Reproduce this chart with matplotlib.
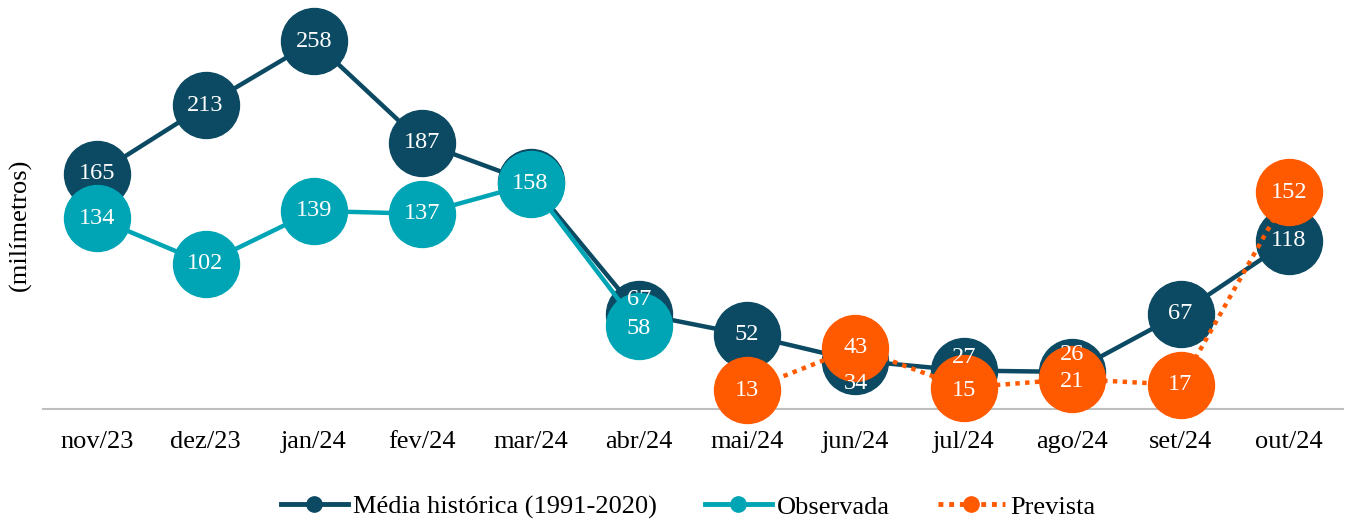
import matplotlib
matplotlib.use("Agg")
import matplotlib.pyplot as plt
from matplotlib.lines import Line2D

months = ["nov/23", "dez/23", "jan/24", "fev/24", "mar/24", "abr/24",
          "mai/24", "jun/24", "jul/24", "ago/24", "set/24", "out/24"]
historica = [165, 213, 258, 187, 159, 67, 52, 34, 27, 26, 67, 118]
observada = [134, 102, 139, 137, 158, 58]
prevista = [13, 43, 15, 21, 17, 152]
prev_start = 6

hist_labels = [165, 213, 258, 187, None, 67, 52, 34, 27, 26, 67, 118]

# label offsets in pixels (to avoid overlapping labels), negative = down
hist_off = [0, 0, 0, 0, 0, 14, 0, -23, 13, 17, 0, 0]
obs_off = [0, 0, 0, 0, 0, -2]
prev_off = [0, 0, -3, -2, 0, 0]

c_hist = "#0B4A62"
c_obs = "#00A5B5"
c_prev = "#FF5A00"

plt.rcParams['font.family'] = ['Liberation Serif', 'DejaVu Serif']

fig = plt.figure(figsize=(13.48, 5.21), dpi=100)
ax = fig.add_axes([43/1348, (521-409)/521, 1300/1348, 389/521])

x = list(range(len(months)))
ms = 47.5
ax.plot(x, historica, color=c_hist, lw=3.2, marker='o', ms=ms, clip_on=False, zorder=3)
ax.plot(x[:len(observada)], observada, color=c_obs, lw=3.2, marker='o', ms=ms, clip_on=False, zorder=4)
xp = x[prev_start:prev_start + len(prevista)]
ax.plot(xp, prevista, color=c_prev, lw=3.2, ls=(0, (1, 1.2)), marker='o', ms=ms, clip_on=False, zorder=5)

fs = 17.5

def lab(xi, v, off):
    ax.annotate(str(v), (xi, v), xytext=(0, off), textcoords='offset pixels',
                color='white', ha='center', va='center', fontsize=fs, zorder=10,
                annotation_clip=False)

for xi, v, o in zip(x, hist_labels, hist_off):
    if v is None:
        continue
    lab(xi, v, o)
for xi, v, o in zip(x, observada, obs_off):
    lab(xi, v, o)
for xi, v, o in zip(xp, prevista, prev_off):
    lab(xi, v, o)

ax.set_xlim(-0.5, len(months) - 0.5)
ax.set_ylim(0, 273)
ax.set_xticks(x)
ax.set_xticklabels(months, fontsize=19)
ax.tick_params(axis='x', length=0, pad=16)
ax.set_yticks([])
for s in ['top', 'right', 'left']:
    ax.spines[s].set_visible(False)
ax.spines['bottom'].set_color('#BFBFBF')
ax.spines['bottom'].set_linewidth(1.5)
ax.spines['bottom'].set_zorder(1)

fig.text(20/1348, 1 - 225/521, "(milímetros)", rotation=90, ha='center', va='center', fontsize=19)

handles = [
    Line2D([], [], color=c_hist, lw=3.5, marker='o', ms=11),
    Line2D([], [], color=c_obs, lw=3.5, marker='o', ms=11),
    Line2D([], [], color=c_prev, lw=3.5, ls=(0, (1, 1.2)), marker='o', ms=11),
]
fig.legend(handles, ["Média histórica (1991-2020)", "Observada", "Prevista"],
           loc='center', bbox_to_anchor=(688/1348, 1 - 507/521), ncol=3,
           frameon=False, fontsize=19, handlelength=2.55, columnspacing=1.8, handletextpad=0.2)

fig.savefig("out.png", dpi=100)
